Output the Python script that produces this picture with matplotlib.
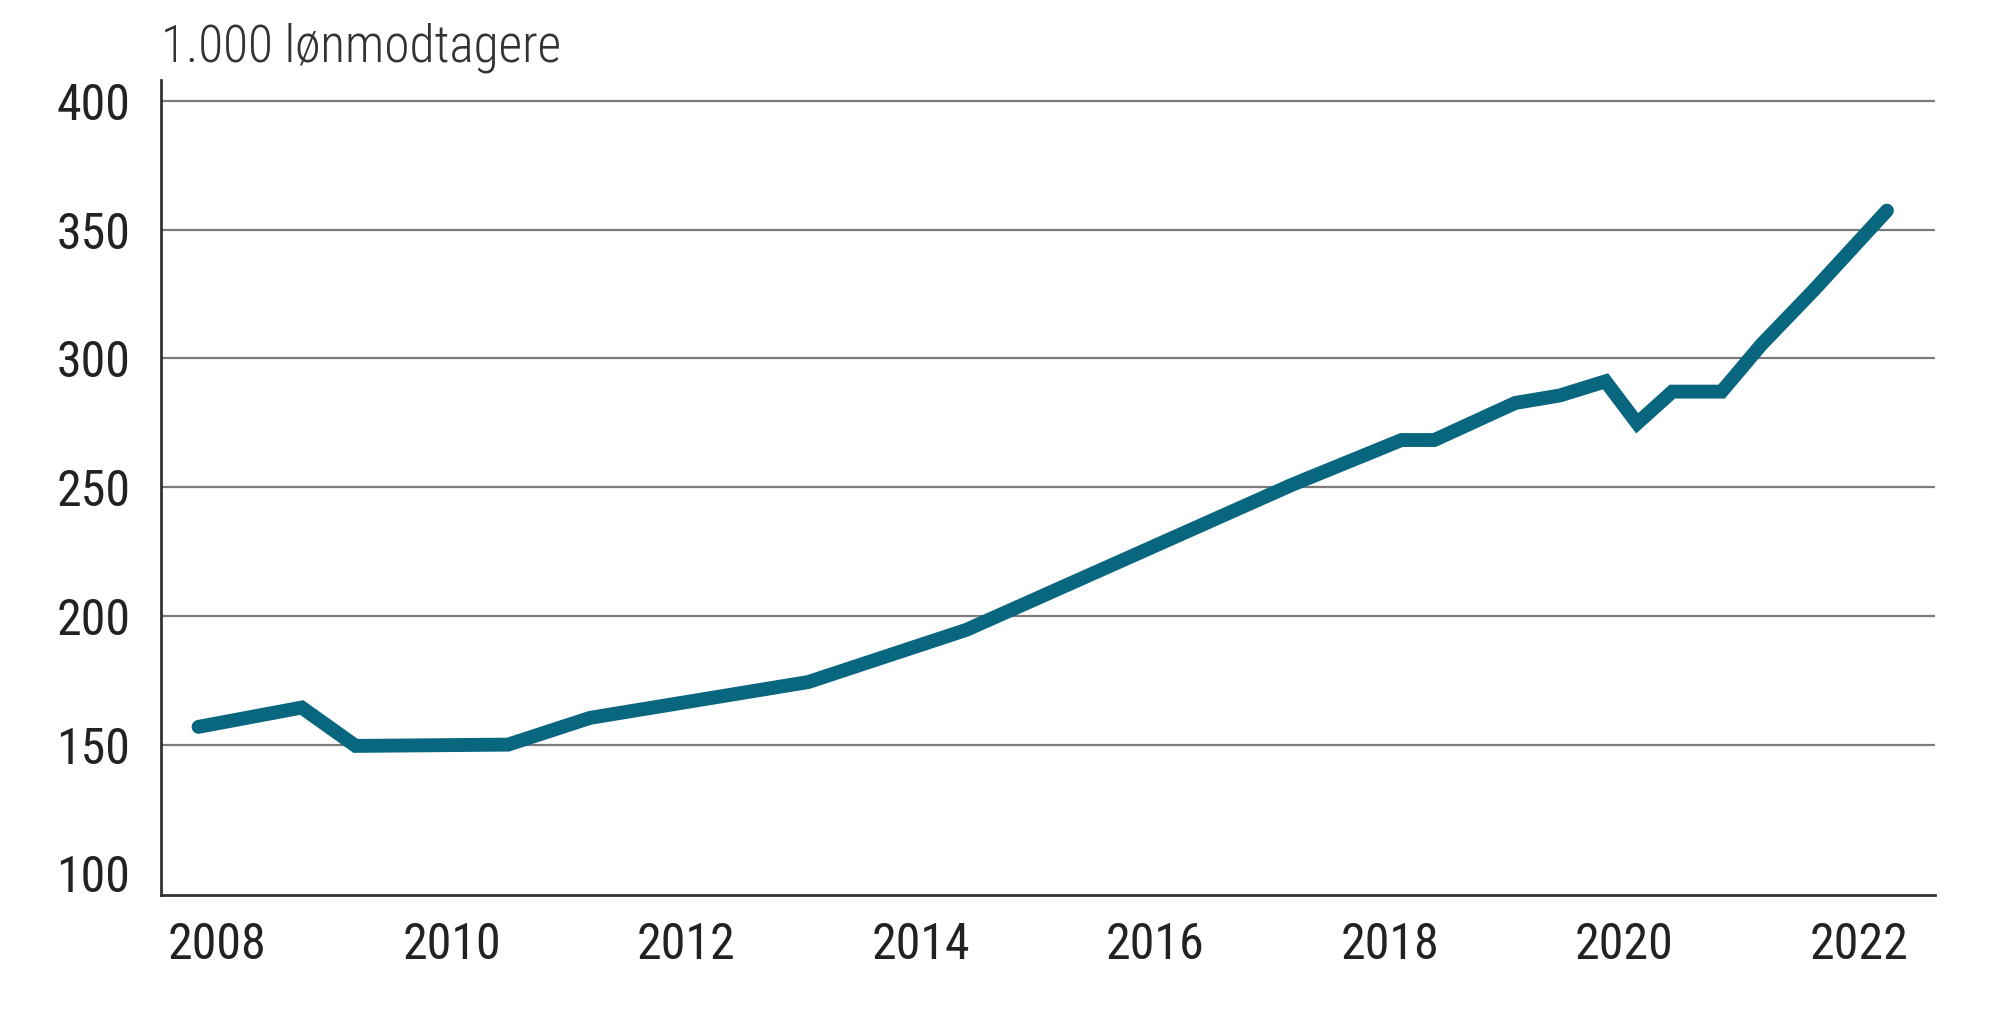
import matplotlib.pyplot as plt

# Wage earners (1.000 lønmodtagere)
years = [2007.84, 2008.72, 2009.18, 2010.48, 2011.18, 2013.04, 2014.39,
         2017.17, 2018.10, 2018.38, 2019.07, 2019.45, 2019.84, 2020.11,
         2020.41, 2020.83, 2021.17, 2021.62, 2022.24]
values = [156.9, 164.4, 149.5, 150.0, 160.4, 174.3, 194.6,
          251.0, 268.3, 268.3, 282.7, 285.6, 291.1, 274.8,
          287.1, 287.1, 305.4, 326.7, 357.4]

x_ticks = [2008, 2010, 2012, 2014, 2016, 2018, 2020, 2022]
y_ticks = [100, 150, 200, 250, 300, 350, 400]
y_label = "1.000 lønmodtagere"

fonts = ["Roboto Condensed", "Roboto", "DejaVu Sans"]

fig = plt.figure(figsize=(20, 10.26), dpi=100)
ax = fig.add_axes([0.0805, 0.1277, 0.887, 0.794])

# Grid lines (none at 100, which sits just above the bottom axis)
for v in y_ticks[1:]:
    ax.axhline(v, color="#7a7a7a", lw=1.6, zorder=1)

ax.plot(years, values, color="#08667f", lw=10, solid_capstyle="round",
        solid_joinstyle="miter", zorder=3)

ax.set_xlim(2007.52, 2022.65)
ax.set_ylim(91.6, 408)
ax.set_xticks(x_ticks)
ax.set_yticks(y_ticks)
ax.set_xticklabels([str(t) for t in x_ticks])
ax.set_yticklabels([str(t) for t in y_ticks])
ax.tick_params(axis="both", length=0, labelsize=36, colors="#222222")
ax.tick_params(axis="x", pad=19)
ax.tick_params(axis="y", pad=22)
for lab in ax.get_xticklabels() + ax.get_yticklabels():
    lab.set_family(fonts)

for side in ["top", "right"]:
    ax.spines[side].set_visible(False)
for side in ["left", "bottom"]:
    ax.spines[side].set_color("#333333")
    ax.spines[side].set_linewidth(2)

fig.text(0.0805, 0.940, y_label, fontsize=37, family=fonts,
         fontweight=300, color="#333333", va="baseline", ha="left")

fig.savefig("out.png", dpi=100, facecolor="white")
